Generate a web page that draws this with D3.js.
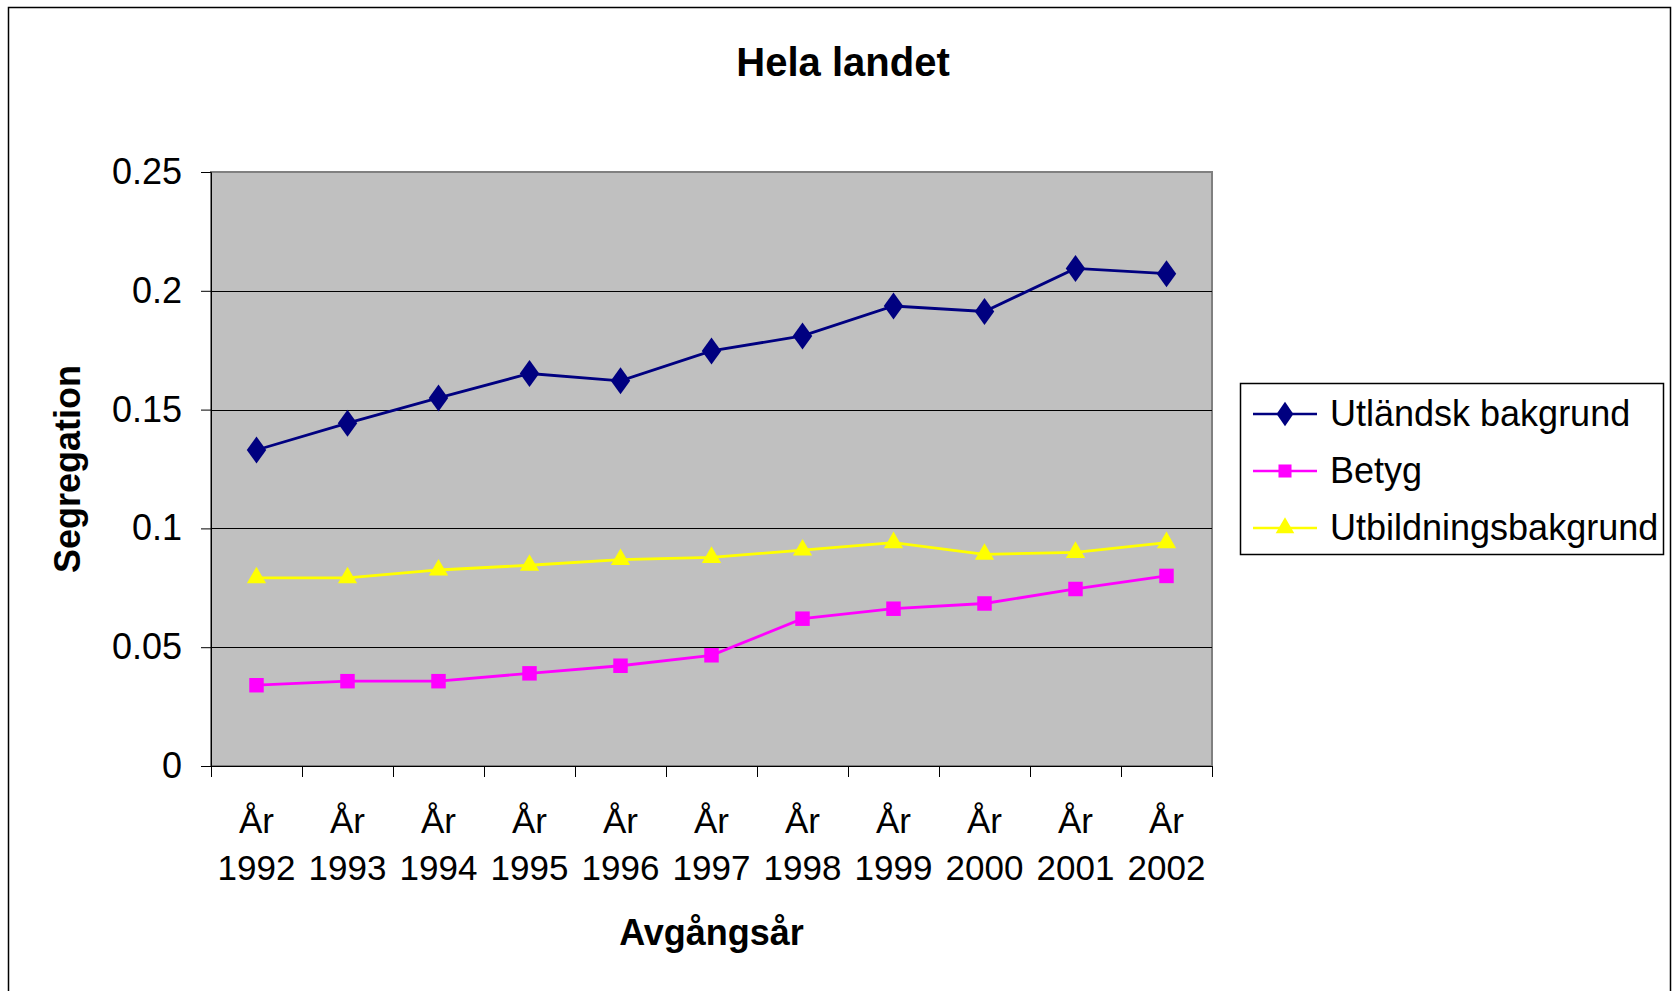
<!DOCTYPE html>
<html>
<head>
<meta charset="utf-8">
<script src="https://cdn.jsdelivr.net/npm/d3@7"></script>
<style>
  body { margin: 0; background: #fff; }
  text { font-family: "Liberation Sans", Arial, sans-serif; fill: #000; }
</style>
</head>
<body>
<div class="container"></div>
<script>
// data
const years = ["1992", "1993", "1994", "1995", "1996", "1997", "1998", "1999", "2000", "2001", "2002"];
const utlandsk = [0.133, 0.1443, 0.1549, 0.1652, 0.1621, 0.1747, 0.181, 0.1936, 0.1913, 0.2094, 0.2072];
const betyg = [0.034, 0.0357, 0.0357, 0.039, 0.0422, 0.0466, 0.062, 0.0662, 0.0684, 0.0745, 0.08];
const utbildning = [0.0792, 0.0792, 0.0825, 0.0845, 0.0869, 0.0878, 0.0909, 0.094, 0.0891, 0.0899, 0.094];
const yTicks = [0, 0.05, 0.1, 0.15, 0.2, 0.25];
const yTickLabels = ["0", "0.05", "0.1", "0.15", "0.2", "0.25"];

const series = [
  { name: "Utländsk bakgrund", values: utlandsk, color: "#000080", shape: d3.symbolDiamond },
  { name: "Betyg", values: betyg, color: "#ff00ff", shape: d3.symbolSquare },
  { name: "Utbildningsbakgrund", values: utbildning, color: "#ffff00", shape: d3.symbolTriangle },
];

const W = 1679, H = 991;
const plot = { left: 211, right: 1212, top: 172, bottom: 766 };

const svg = d3.select(".container").append("svg")
  .attr("width", W).attr("height", H);

// outer chart frame
svg.append("rect")
  .attr("x", 8.5).attr("y", 7.5)
  .attr("width", 1662).attr("height", 1000)
  .attr("fill", "#fff").attr("stroke", "#000").attr("stroke-width", 1.5);

const x = d3.scaleBand().domain(years).range([plot.left, plot.right]).padding(0);
const y = d3.scaleLinear().domain([0, 0.25]).range([plot.bottom, plot.top]);
const cx = d => x(d) + x.bandwidth() / 2;

// plot background
svg.append("rect")
  .attr("x", plot.left).attr("y", plot.top)
  .attr("width", plot.right - plot.left).attr("height", plot.bottom - plot.top)
  .attr("fill", "#c0c0c0").attr("stroke", "#808080").attr("stroke-width", 2);

// gridlines
svg.selectAll(".grid").data(yTicks.filter(t => t > 0 && t < 0.25)).enter()
  .append("line")
  .attr("x1", plot.left).attr("x2", plot.right)
  .attr("y1", d => Math.round(y(d)) + 0.5).attr("y2", d => Math.round(y(d)) + 0.5)
  .attr("stroke", "#000").attr("stroke-width", 1);

// y axis
const yAxis = svg.append("g")
  .attr("transform", `translate(${plot.left},0)`)
  .call(d3.axisLeft(y).tickValues(yTicks).tickSize(10).tickPadding(19)
    .tickFormat((d, i) => yTickLabels[i]));
yAxis.select(".domain").attr("stroke", "#000").attr("stroke-width", 1);
yAxis.selectAll(".tick line").attr("stroke", "#000");
yAxis.selectAll("text").attr("font-size", 36).attr("font-family", "Liberation Sans, Arial, sans-serif");

// x axis: boundary ticks
const bounds = years.map(d => x(d)).concat([x.range()[1]]);
svg.append("line")
  .attr("x1", plot.left).attr("x2", plot.right)
  .attr("y1", plot.bottom + 0.5).attr("y2", plot.bottom + 0.5)
  .attr("stroke", "#000");
svg.selectAll(".xtick").data(bounds).enter().append("line")
  .attr("x1", d => Math.round(d) + 0.5).attr("x2", d => Math.round(d) + 0.5)
  .attr("y1", plot.bottom).attr("y2", plot.bottom + 11)
  .attr("stroke", "#000");

const xl = svg.selectAll(".xlab").data(years).enter().append("text")
  .attr("text-anchor", "middle").attr("font-size", 35);
xl.append("tspan").attr("x", cx).attr("y", plot.bottom + 67).text("År");
xl.append("tspan").attr("x", cx).attr("y", plot.bottom + 114).text(d => d);

// lines and markers
const line = d3.line().x((v, i) => cx(years[i])).y(v => y(v));
series.forEach(s => {
  svg.append("path").datum(s.values)
    .attr("d", line).attr("fill", "none")
    .attr("stroke", s.color).attr("stroke-width", 2.8);
  svg.selectAll(null).data(s.values).enter().append("path")
    .attr("transform", (v, i) => `translate(${cx(years[i])},${y(v)})` +
      (s.shape === d3.symbolDiamond ? " scale(1.25,1)" : ""))
    .attr("d", d3.symbol().type(s.shape).size(s.shape === d3.symbolTriangle ? 160 : 210))
    .attr("fill", s.color);
});

// titles
svg.append("text").attr("x", 843).attr("y", 76)
  .attr("text-anchor", "middle").attr("font-size", 40).attr("font-weight", "bold")
  .text("Hela landet");
svg.append("text").attr("x", (plot.left + plot.right) / 2).attr("y", 945)
  .attr("text-anchor", "middle").attr("font-size", 36).attr("font-weight", "bold")
  .text("Avgångsår");
svg.append("text")
  .attr("transform", `translate(80,${(plot.top + plot.bottom) / 2}) rotate(-90)`)
  .attr("text-anchor", "middle").attr("font-size", 36).attr("font-weight", "bold")
  .text("Segregation");

// legend
const lg = svg.append("g").attr("transform", "translate(1240,383)");
lg.append("rect").attr("x", 0.5).attr("y", 0.5).attr("width", 423).attr("height", 171)
  .attr("fill", "#fff").attr("stroke", "#000").attr("stroke-width", 1.5);
series.forEach((s, i) => {
  const ry = 31 + i * 57;
  lg.append("line").attr("x1", 13).attr("x2", 77).attr("y1", ry).attr("y2", ry)
    .attr("stroke", s.color).attr("stroke-width", 2.5);
  lg.append("path")
    .attr("transform", `translate(45,${ry})` + (s.shape === d3.symbolDiamond ? " scale(1.2,1)" : ""))
    .attr("d", d3.symbol().type(s.shape).size(s.shape === d3.symbolTriangle ? 150 : 170))
    .attr("fill", s.color);
  lg.append("text").attr("x", 90).attr("y", ry + 12).attr("font-size", 36).text(s.name);
});
</script>
</body>
</html>
